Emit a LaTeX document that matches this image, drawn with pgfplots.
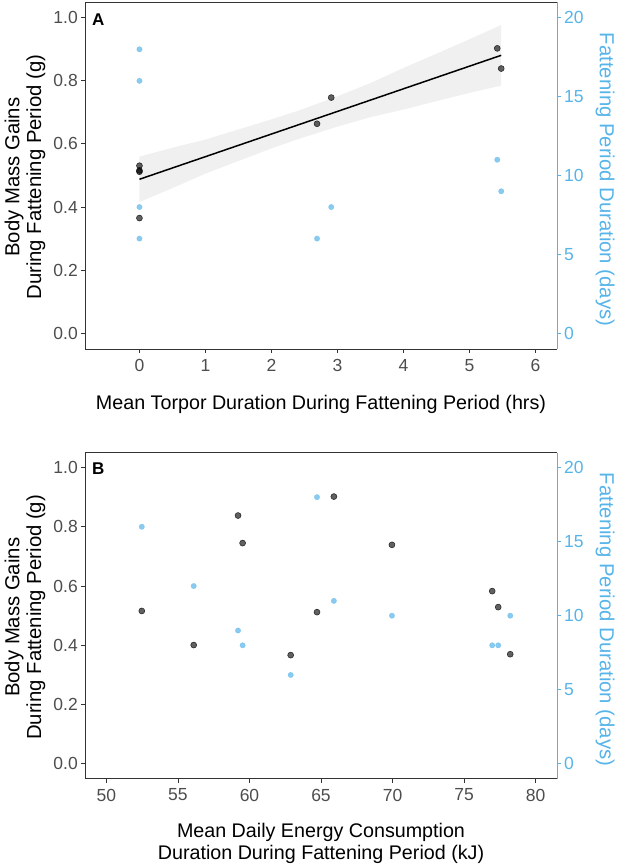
\documentclass[border=0pt]{standalone}
\usepackage{pgfplots}
\pgfplotsset{compat=1.18}
\usepackage{fontspec}
\setmainfont{Liberation Sans}
\definecolor{tickgray}{HTML}{4D4D4D}
\definecolor{skyaxis}{HTML}{56B4E9}
\definecolor{bandgray}{HTML}{F0F0F0}
\newcommand\tickfont{\fontsize{17.5}{19}\selectfont}
\newcommand\titlefont{\fontsize{19.7}{21.7}\selectfont}
\newcommand\ytitlefont{\fontsize{20.3}{21.7}\selectfont}
\pgfplotsset{
  base/.style={
    scale only axis, width=472pt, anchor=south west,
    /pgf/number format/assume math mode=true,
    tick label style={font=\tickfont},
    tick align=outside, major tick length=4pt,
  },
  leftax/.style={base,
    axis x line*=box, axis y line*=left,
    xtick pos=left, xticklabel pos=left,
    ymin=-0.05, ymax=1.05, ytick={0,0.2,0.4,0.6,0.8,1.0},
    yticklabel style={/pgf/number format/fixed, /pgf/number format/fixed zerofill, /pgf/number format/precision=1},
    axis line style={black!80, line width=0.9pt},
    tick style={black!80, line width=0.9pt},
    ticklabel style={text=tickgray},
    xticklabel style={inner sep=0pt, yshift=-6pt},
    yticklabel style={inner sep=0pt, xshift=-3pt},
    every axis y label/.style={at={(axis description cs:-0.127,0.495)}, rotate=90, anchor=center, align=center, text=black, font=\ytitlefont},
  },
  rightax/.style={base,
    axis x line=none, axis y line*=right,
    ymin=-1, ymax=21, ytick={0,5,10,15,20},
    axis line style={skyaxis, line width=0.9pt},
    tick style={skyaxis, line width=0.9pt},
    ticklabel style={text=skyaxis},
    yticklabel style={inner sep=0pt, xshift=3pt},
    every axis y label/.style={at={(axis description cs:1.102,0.488)}, rotate=-90, anchor=center, text=skyaxis, font=\ytitlefont},
    ylabel={Fattening Period Duration (days)},
  },
  blackpts/.style={only marks, mark=*, mark size=3.0pt, mark options={fill=black, fill opacity=0.62, draw=black, draw opacity=0.8, line width=0.5pt}},
  bluepts/.style={only marks, mark=*, mark size=2.75pt, mark options={fill=skyaxis, fill opacity=0.7, draw=skyaxis, draw opacity=0.5, line width=0.3pt}},
}
\begin{document}
\begin{tikzpicture}
\useasboundingbox (0,0) rectangle (617pt,864pt);
% ---------- Panel A ----------
\begin{axis}[leftax, at={(85pt,515pt)}, height=347pt,
  xmin=-0.825, xmax=6.325, xtick={0,1,2,3,4,5,6},
  xlabel={Mean Torpor Duration During Fattening Period (hrs)},
  every axis x label/.style={at={(axis description cs:0.5,-0.1758)}, anchor=base, text=black, font=\titlefont},
  ylabel={Body Mass Gains\\During Fattening Period (g)}]
\addplot[fill=bandgray, draw=none] coordinates {
  (0,0.560) (0.5,0.588) (1,0.614) (1.5,0.646) (2,0.678) (2.4,0.705) (3,0.751) (3.5,0.793) (4,0.841) (4.5,0.886) (5,0.932) (5.48,0.977)
  (5.48,0.785) (5,0.762) (4.5,0.736) (4,0.709) (3.5,0.685) (3,0.655) (2.4,0.615) (2,0.586) (1.5,0.546) (1,0.506) (0.5,0.460) (0,0.416)};
\addplot[black, line width=1.5pt] coordinates {(0,0.488) (5.48,0.881)};
\addplot[blackpts] coordinates {(0,0.531) (0,0.516) (0,0.512) (0,0.365) (2.69,0.664) (2.905,0.747) (5.42,0.903) (5.48,0.839)};
\node[anchor=north west, inner sep=0pt, font=\bfseries\fontsize{17}{17}\selectfont] at (rel axis cs:0,1) [xshift=7pt, yshift=-12pt] {A};
\end{axis}
\begin{axis}[rightax, at={(85pt,515pt)}, height=347pt, xmin=-0.825, xmax=6.325]
\addplot[bluepts] coordinates {(0,18) (0,16) (0,8) (0,6) (2.69,6) (2.905,8) (5.42,11) (5.48,9)};
\end{axis}
% ---------- Panel B ----------
\begin{axis}[leftax, at={(85pt,85.3pt)}, height=326pt,
  xmin=48.5, xmax=81.5, xtick={50,55,60,65,70,75,80},
  xlabel={Mean Daily Energy Consumption\\Duration During Fattening Period (kJ)},
  every axis x label/.style={at={(axis description cs:0.5,-0.136)}, anchor=north, inner sep=0pt, align=center, text=black, font=\titlefont},
  ylabel={Body Mass Gains\\During Fattening Period (g)}]
\addplot[blackpts] coordinates {(52.47,0.516) (56.1,0.401) (59.2,0.838) (59.52,0.745) (62.88,0.367) (64.72,0.512) (65.9,0.902) (69.96,0.739) (76.97,0.583) (77.39,0.529) (78.23,0.370)};
\node[anchor=north west, inner sep=0pt, font=\bfseries\fontsize{17}{17}\selectfont] at (rel axis cs:0,1) [xshift=7pt, yshift=-10pt] {B};
\end{axis}
\begin{axis}[rightax, at={(85pt,85.3pt)}, height=326pt, xmin=48.5, xmax=81.5]
\addplot[bluepts] coordinates {(52.47,16) (56.1,12) (59.2,9) (59.52,8) (62.88,6) (64.72,18) (65.9,11) (69.96,10) (76.97,8) (77.39,8) (78.23,10)};
\end{axis}
\end{tikzpicture}
\end{document}
